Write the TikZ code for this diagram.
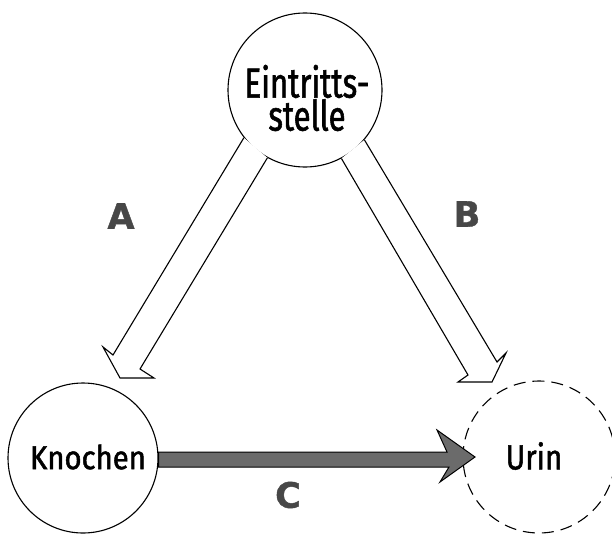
\documentclass[tikz,border=0pt]{standalone}
\usepackage{graphicx}
\usepackage{fontspec}
\setmainfont{Fira Sans}[FakeStretch=0.74,FakeBold=1.3]
\newfontfamily\lblfont{DejaVu Sans}[BoldFeatures={FakeBold=1.2}]
\begin{document}
\begin{tikzpicture}[x=1pt,y=-1pt,
  ring/.style={circle,draw=black,line width=1.1pt,inner sep=0pt},
  nodetext/.style={inner sep=0pt,align=center,text=black},
  hollowarrow/.style={draw=black,line width=1.1pt,line join=miter,fill=white},
  solidarrow/.style={draw=black,line width=1pt,fill=black!58},
  letter/.style={inner sep=0pt,text=black!72,font=\lblfont\bfseries\fontsize{35}{35}\selectfont}]
\useasboundingbox (0,0) rectangle (612,535);

% circles
\node[ring,minimum size=154pt] (E) at (305,90) {};
\node[ring,minimum size=150pt] (K) at (83,458) {};
\node[ring,dash pattern=on 12pt off 7pt,minimum size=152pt] (U) at (539,457) {};

% texts
\node[nodetext,font=\fontsize{42}{33}\selectfont] (Et) at (307,98) {Eintritts-\\stelle};
\node[nodetext,font=\fontsize{33}{33}\selectfont] (Kt) at (88,457) {\scalebox{1.2}[1]{Knochen}};
\node[nodetext,font=\fontsize{35}{35}\selectfont] (Ut) at (534,456) {\scalebox{1.14}[1]{Urin}};

% arrow A
\path[hollowarrow] (E.218.7) -- (113,355) -- (103,347) -- (120,378) -- (154,378) -- (140,369) -- (E.241.2);
% arrow B
\path[hollowarrow] (E.320.3) -- (497,362) -- (506,353) -- (492,382) -- (458,382) -- (468,375) -- (E.298.6);
% arrow C
\path[solidarrow] (K.east |- 0,452) -- (447,452) -- (437,430) -- (475,457) -- (440,482) -- (449,467) -- (K.east |- 0,467) -- cycle;

% labels
\node[letter] (A) at (121,216) {A};
\node[letter] (B) at (467,214) {B};
\node[letter] (C) at (288,495) {C};
\end{tikzpicture}
\end{document}
